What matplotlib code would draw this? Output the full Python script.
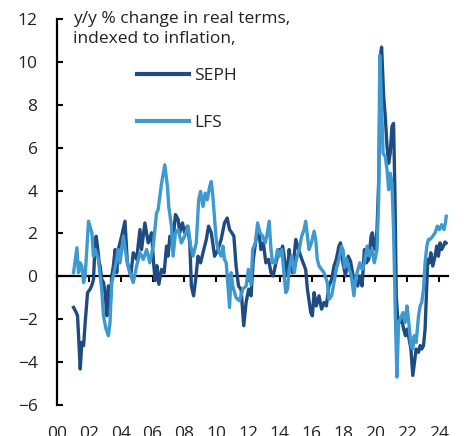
import matplotlib
matplotlib.use("Agg")
import matplotlib.pyplot as plt

plt.rcParams['font.family'] = ['Open Sans', 'DejaVu Sans']

# y/y % change in real terms (decimal years)
seph_t = [2001.04, 2001.21, 2001.29, 2001.40, 2001.46, 2001.56, 2001.67, 2001.77, 2001.92, 2002.08,
          2002.21, 2002.29, 2002.35, 2002.46, 2002.54, 2002.65, 2002.71, 2002.81, 2002.92, 2003.02,
          2003.13, 2003.23, 2003.33, 2003.44, 2003.54, 2003.65, 2003.75, 2003.85, 2004.06, 2004.27,
          2004.42, 2004.63, 2004.79, 2005.00, 2005.21, 2005.31, 2005.52, 2005.73, 2005.94, 2006.08,
          2006.17, 2006.27, 2006.40, 2006.56, 2006.73, 2006.88, 2006.98, 2007.09, 2007.29, 2007.44,
          2007.61, 2007.71, 2007.88, 2008.02, 2008.19, 2008.34, 2008.44, 2008.58, 2008.71, 2008.86,
          2009.02, 2009.17, 2009.38, 2009.52, 2009.69, 2009.90, 2010.11, 2010.31, 2010.52, 2010.69,
          2010.84, 2010.98, 2011.11, 2011.25, 2011.40, 2011.56, 2011.73, 2011.88, 2012.04, 2012.19,
          2012.33, 2012.50, 2012.67, 2012.81, 2012.96, 2013.12, 2013.29, 2013.44, 2013.58, 2013.75,
          2013.96, 2014.06, 2014.17, 2014.33, 2014.48, 2014.58, 2014.69, 2014.79, 2015.00, 2015.17,
          2015.31, 2015.46, 2015.62, 2015.73, 2015.94, 2016.04, 2016.15, 2016.29, 2016.46, 2016.62,
          2016.77, 2016.92, 2017.08, 2017.25, 2017.40, 2017.54, 2017.71, 2017.81, 2017.96, 2018.12,
          2018.29, 2018.44, 2018.60, 2018.75, 2018.89, 2019.02, 2019.16, 2019.31, 2019.43, 2019.58,
          2019.73, 2019.81, 2019.89, 2020.00, 2020.10, 2020.21, 2020.31, 2020.39, 2020.52, 2020.62,
          2020.73, 2020.83, 2020.93, 2021.04, 2021.14, 2021.23, 2021.31, 2021.39, 2021.52, 2021.66,
          2021.77, 2021.89, 2021.98, 2022.08, 2022.23, 2022.35, 2022.43, 2022.56, 2022.71, 2022.81,
          2022.91, 2023.02, 2023.12, 2023.23, 2023.29, 2023.39, 2023.48, 2023.60, 2023.75, 2023.85,
          2023.96, 2024.06, 2024.16, 2024.27, 2024.37, 2024.44]
seph = [-1.45, -1.69, -1.84, -3.39, -4.32, -3.08, -3.23, -2.15, -0.76, -0.60,
        -0.37, -0.14, 0.79, 1.87, 1.41, 0.63, 0.48, -0.14, -0.29, -0.76,
        -1.84, -0.45, -1.38, 0.02, 0.48, 1.25, 0.17, 1.25, 1.87, 2.57,
        0.63, 0.02, 1.10, 0.79, 2.18, 1.25, 2.49, 1.56, 2.03, 0.50,
        -0.20, 0.50, -0.37, 0.32, 0.17, 1.41, 0.94, 1.87, 1.72, 2.88,
        2.65, 2.03, 2.49, 2.03, 2.34, 1.56, -0.45, -0.91, -0.14, 0.94,
        0.63, 1.10, 1.72, 2.34, 2.03, 0.94, 1.25, 1.72, 2.49, 2.72,
        2.18, 2.03, 1.87, 0.48, -0.45, -0.60, -2.30, -1.20, -0.60, -0.91,
        0.79, 1.72, 2.18, 1.25, 1.56, 0.63, 0.79, 0.17, 0.02, 0.63,
        1.25, 1.10, 1.41, 0.63, 0.02, 1.25, 0.63, 0.17, 1.72, 1.25,
        0.94, 0.63, 0.32, -0.60, -1.69, -1.84, -0.76, -1.38, -0.91, -1.53,
        -1.22, -1.38, -0.45, -0.14, 0.48, 0.79, 1.41, 1.56, 0.63, 0.02,
        0.94, 0.70, 0.02, -0.29, -0.45, 0.02, -0.45, 1.25, 0.63, 0.79,
        1.87, 2.03, 1.41, 1.25, 2.18, 4.50, 10.22, 10.69, 8.37, 7.44,
        6.05, 5.27, 5.74, 6.98, 7.13, 3.73, -0.91, -1.84, -2.15, -2.00,
        -2.46, -2.77, -2.46, -2.77, -3.39, -4.62, -4.16, -3.39, -3.54, -3.23,
        -3.39, -3.23, -2.46, -0.29, 0.79, 0.63, 1.10, 0.48, 0.94, 1.41,
        0.94, 1.56, 1.25, 1.40, 1.60, 1.55]

lfs_t = [2001.04, 2001.25, 2001.35, 2001.46, 2001.56, 2001.67, 2001.77, 2001.98, 2002.19, 2002.29,
         2002.40, 2002.60, 2002.71, 2002.81, 2002.92, 2003.08, 2003.23, 2003.33, 2003.44, 2003.54,
         2003.75, 2003.85, 2003.96, 2004.17, 2004.38, 2004.58, 2004.79, 2005.00, 2005.21, 2005.42,
         2005.63, 2005.83, 2006.04, 2006.15, 2006.25, 2006.35, 2006.56, 2006.77, 2006.94, 2007.02,
         2007.19, 2007.29, 2007.44, 2007.61, 2007.81, 2008.02, 2008.23, 2008.40, 2008.54, 2008.75,
         2008.90, 2009.02, 2009.17, 2009.31, 2009.44, 2009.59, 2009.69, 2009.79, 2009.90, 2010.00,
         2010.11, 2010.31, 2010.42, 2010.52, 2010.63, 2010.84, 2010.94, 2011.04, 2011.25, 2011.46,
         2011.67, 2011.88, 2012.02, 2012.19, 2012.29, 2012.46, 2012.60, 2012.75, 2012.92, 2013.08,
         2013.17, 2013.33, 2013.44, 2013.54, 2013.71, 2013.85, 2013.96, 2014.13, 2014.27, 2014.37,
         2014.48, 2014.58, 2014.75, 2014.90, 2015.04, 2015.21, 2015.37, 2015.52, 2015.62, 2015.73,
         2015.83, 2015.98, 2016.15, 2016.25, 2016.35, 2016.46, 2016.62, 2016.77, 2016.98, 2017.08,
         2017.25, 2017.40, 2017.54, 2017.71, 2017.87, 2017.98, 2018.06, 2018.19, 2018.33, 2018.48,
         2018.65, 2018.75, 2018.85, 2019.02, 2019.16, 2019.31, 2019.48, 2019.64, 2019.79, 2019.93,
         2020.10, 2020.21, 2020.27, 2020.37, 2020.48, 2020.62, 2020.73, 2020.83, 2020.93, 2021.04,
         2021.14, 2021.25, 2021.35, 2021.46, 2021.56, 2021.73, 2021.87, 2021.98, 2022.08, 2022.23,
         2022.35, 2022.43, 2022.56, 2022.71, 2022.81, 2022.91, 2023.02, 2023.12, 2023.23, 2023.33,
         2023.43, 2023.60, 2023.75, 2023.89, 2024.02, 2024.16, 2024.31, 2024.40, 2024.45]
lfs = [0.17, 1.33, 0.17, 0.63, 0.48, -0.29, 0.02, 2.57, 2.03, 0.94,
       1.25, 0.79, 0.02, -0.60, -1.84, -2.46, -2.77, -2.15, -0.29, 0.02,
       0.79, 1.25, 0.63, 1.87, 0.79, 0.17, -0.29, 0.48, 1.10, 0.79,
       1.25, 0.63, 1.40, 2.18, 2.95, 3.10, 4.30, 5.20, 4.19, 3.26,
       2.34, 0.94, 2.03, 2.18, 1.56, 1.87, 2.34, 1.41, 0.94, 1.56,
       3.57, 3.96, 3.26, 3.88, 3.57, 4.19, 4.42, 3.73, 2.65, 1.72,
       1.25, 0.94, 1.41, 0.79, 0.63, -1.45, 0.17, -0.45, -1.00, -1.14,
       -0.60, -0.45, 0.32, -0.40, 1.25, 1.56, 2.49, 2.03, 1.87, 1.56,
       1.87, 2.57, 1.25, 0.63, 0.63, 1.25, 0.94, 1.25, 0.02, -0.76,
       -0.60, 0.32, 0.94, 0.17, 0.79, 1.25, 1.87, 2.18, 2.57, 1.87,
       1.25, 1.56, 2.10, 1.72, 0.79, 0.48, 0.32, 0.17, -0.29, -1.07,
       -0.91, -0.29, 0.32, 0.79, 1.40, 1.20, 0.40, 0.80, 0.40, 0.05,
       -0.91, -0.14, 0.17, 0.63, 0.32, 0.63, 1.41, 0.94, 1.25, 0.63,
       1.25, 3.73, 10.30, 8.37, 5.74, 5.58, 4.97, 4.04, 4.81, 4.35,
       2.18, -1.69, -4.70, -2.15, -2.00, -1.69, -2.15, -1.38, -2.00, -3.23,
       -3.39, -2.77, -3.08, -1.84, -1.38, -1.22, -0.60, 0.63, 1.41, 1.72,
       1.72, 1.87, 2.03, 2.34, 2.18, 2.41, 2.18, 2.50, 2.80]

tick_years = list(range(2000, 2025, 2))
tick_labels = ["00", "02", "04", "06", "08", "10", "12", "14", "16", "18", "20", "22", "24"]

seph_color = "#1f4b80"
lfs_color = "#3d99cf"

fig = plt.figure(figsize=(4.66, 4.36), dpi=100)
ax = fig.add_axes([57 / 466, 1 - 405 / 436, (448 - 57) / 466, (405 - 19) / 436])

ax.plot(seph_t, seph, color=seph_color, lw=2.4, solid_joinstyle="round", label="SEPH")
ax.plot(lfs_t, lfs, color=lfs_color, lw=2.4, solid_joinstyle="round", label="LFS")

ax.set_xlim(2000.12, 2024.56)
ax.set_ylim(-6, 12)
ax.set_yticks(range(-6, 13, 2))
ax.set_xticks(tick_years)
ax.set_xticklabels(tick_labels)

for s in ["top", "right", "bottom"]:
    ax.spines[s].set_visible(False)
ax.spines["left"].set_linewidth(1.6)
ax.tick_params(axis="y", direction="in", length=4, width=1.5, pad=14,
               labelsize=12.5, labelcolor="#222222")
ax.tick_params(axis="x", length=0, pad=15, labelsize=12.5, labelcolor="#222222")

# zero line with its own downward ticks
zero = ax.secondary_xaxis(0, transform=ax.transData)
zero.set_xticks(tick_years)
zero.tick_params(axis="x", direction="out", length=4, width=1.5, labelbottom=False)
zero.spines["bottom"].set_linewidth(1.6)

fig.text(73 / 466, 1 - 11 / 436, "y/y % change in real terms,\nindexed to inflation,",
         ha="left", va="top", fontsize=12.5, color="#222222", linespacing=1.3)

leg = ax.legend(loc="upper left", bbox_to_anchor=(137 / 466, 1 - 68 / 436),
                bbox_transform=fig.transFigure, frameon=False, fontsize=12.5,
                handlelength=3.0, handletextpad=0.3, labelspacing=1.75,
                borderpad=0, borderaxespad=0, labelcolor="#222222")
for h in leg.get_lines():
    h.set_linewidth(3.0)

fig.savefig("out.png", dpi=100)
